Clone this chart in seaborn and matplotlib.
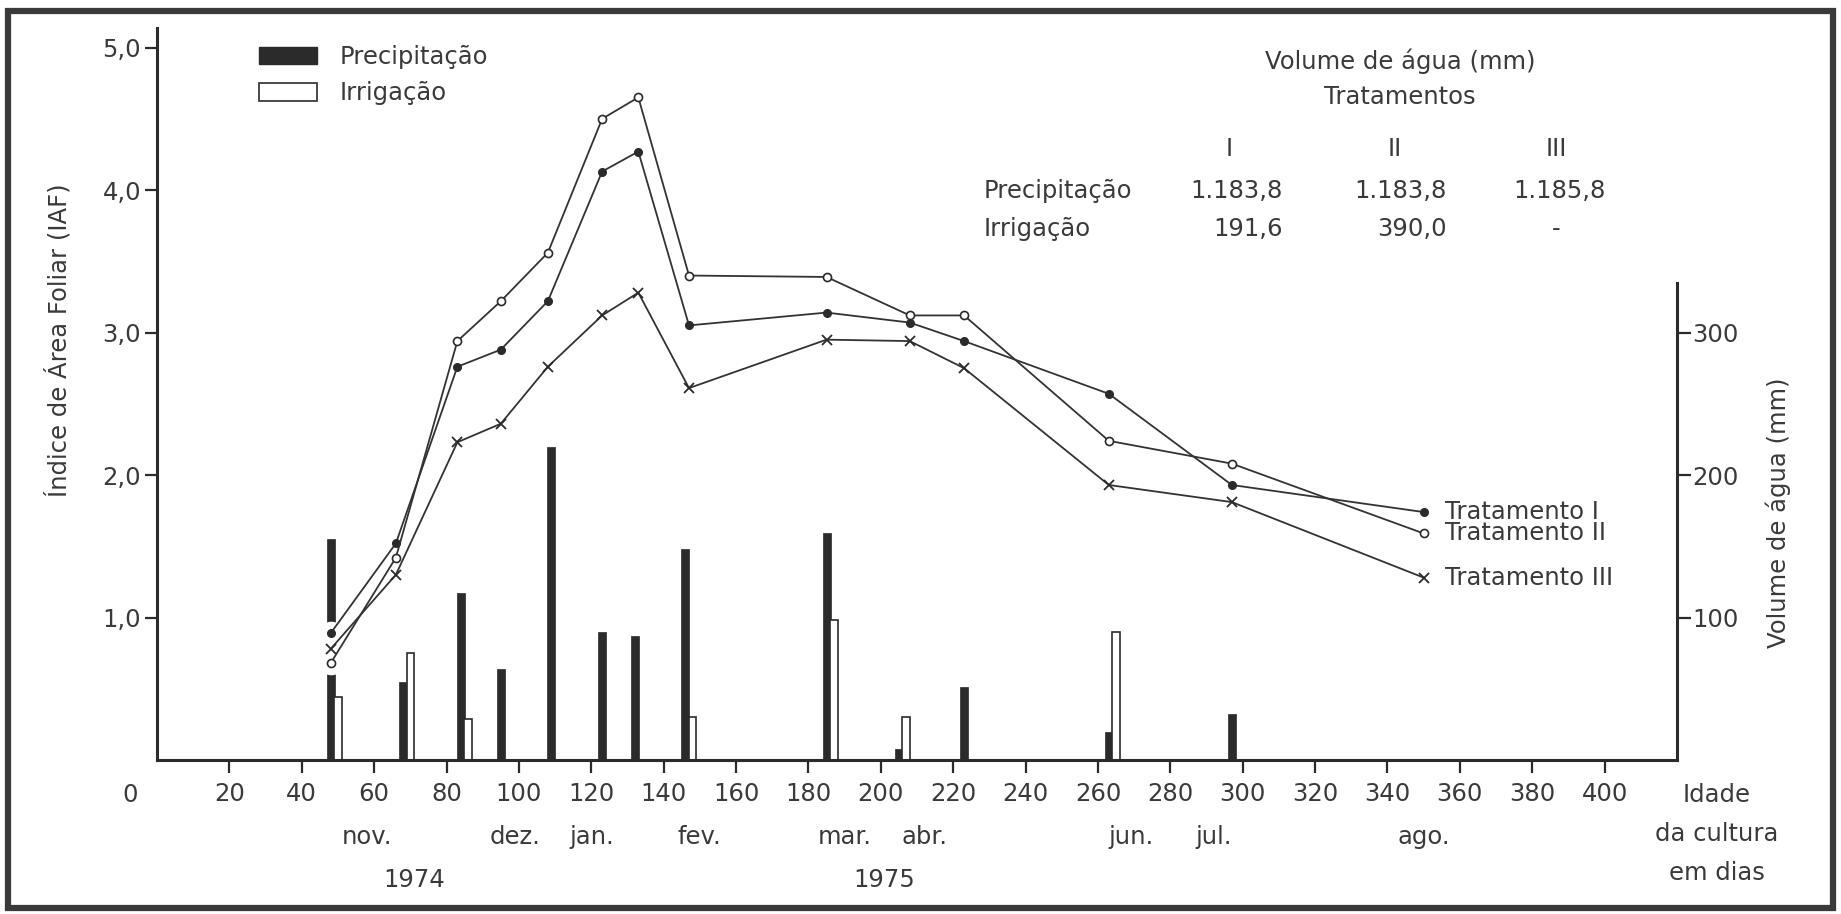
import matplotlib
matplotlib.use("Agg")
import matplotlib.pyplot as plt
import seaborn as sns
from matplotlib.patches import Patch, Rectangle

# ---------------- data ----------------
iaf_days = [48, 66, 83, 95, 108, 123, 133, 147, 185, 208, 223, 263, 297, 350]
iaf_trat_I = [0.89, 1.52, 2.76, 2.88, 3.22, 4.13, 4.27, 3.05, 3.14, 3.07, 2.94, 2.57, 1.93, 1.74]
iaf_trat_II = [0.68, 1.42, 2.94, 3.22, 3.56, 4.50, 4.65, 3.40, 3.39, 3.12, 3.12, 2.24, 2.08, 1.59]
iaf_trat_III = [0.78, 1.30, 2.23, 2.36, 2.76, 3.12, 3.28, 2.61, 2.95, 2.94, 2.75, 1.93, 1.81, 1.28]
trat_names = ["Tratamento I", "Tratamento II", "Tratamento III"]

precip_days = [48, 68, 84, 95, 109, 123, 132, 146, 185, 205, 223, 263, 297]
precip_mm = [155, 55, 117, 64, 220, 90, 87, 148, 159, 8, 51, 20, 32]
irrig_days = [50, 70, 86, 148, 187, 207, 265]
irrig_mm = [44, 75, 29, 30, 98, 30, 90]

x_ticks = list(range(20, 401, 20))
left_ticks = [1.0, 2.0, 3.0, 4.0, 5.0]
left_tick_labels = ["1,0", "2,0", "3,0", "4,0", "5,0"]
right_ticks = [100, 200, 300]

months = ["nov.", "dez.", "jan.", "fev.", "mar.", "abr.", "jun.", "jul.", "ago."]
month_days = [58, 99, 120, 150, 190, 212, 269, 292, 350]
years = ["1974", "1975"]
year_days = [71, 201]

table_cols = ["I", "II", "III"]
table_precip = ["1.183,8", "1.183,8", "1.185,8"]
table_irrig = ["191,6", "390,0", "-"]

# ---------------- style ----------------
sns.set_theme(style="ticks")
plt.rcParams["font.family"] = ["DejaVu Sans"]
FS = 17.5
TXT = "#3a3a3a"
DARK = "#2b2b2b"
LINE = "#333333"

W, H = 1841, 914
fig = plt.figure(figsize=(W / 100, H / 100), dpi=100, facecolor="white")
L, R, B, T = 157, 1677, 760, 27.6
ax = fig.add_axes([L / W, 1 - B / H, (R - L) / W, (B - T) / H])
ax2 = ax.twinx()
ax.set_zorder(ax2.get_zorder() + 1)
ax.patch.set_visible(False)

ax.set_xlim(0, 420)
ax.set_ylim(0, 5.14)
ax2.set_ylim(0, 514)

# bars (right axis, mm)
ax2.bar(precip_days, precip_mm, width=2.2, color=DARK, edgecolor=DARK, linewidth=0.5, zorder=2)
ax2.bar(irrig_days, irrig_mm, width=2.1, color="white", edgecolor=DARK, linewidth=1.2, zorder=2)

# white halos under markers
for vals in (iaf_trat_I, iaf_trat_II, iaf_trat_III):
    ax.plot(iaf_days, vals, ls="none", marker="o", markersize=16,
            markerfacecolor="white", markeredgecolor="white", zorder=2)

# lines
sns.lineplot(x=iaf_days, y=iaf_trat_I, ax=ax, color=LINE, linewidth=1.3, marker="o",
             markersize=5.5, markerfacecolor=DARK, markeredgecolor=DARK,
             markeredgewidth=1.0, zorder=4)
sns.lineplot(x=iaf_days, y=iaf_trat_II, ax=ax, color=LINE, linewidth=1.3, marker="o",
             markersize=5.8, markerfacecolor="white", markeredgecolor=DARK,
             markeredgewidth=1.2, zorder=4)
sns.lineplot(x=iaf_days, y=iaf_trat_III, ax=ax, color=LINE, linewidth=1.3, marker="x",
             markersize=7, markeredgecolor=DARK, markeredgewidth=1.3, zorder=4)

# treatment labels at line ends
for name, vals in zip(trat_names, (iaf_trat_I, iaf_trat_II, iaf_trat_III)):
    ax.text(iaf_days[-1] + 6, vals[-1], name, ha="left", va="center",
            fontsize=FS, color=TXT)

# spines
for s in ("top", "right"):
    ax.spines[s].set_visible(False)
for s in ("left", "bottom"):
    ax.spines[s].set_linewidth(2.2)
    ax.spines[s].set_color(DARK)
for s in ("top", "left", "bottom"):
    ax2.spines[s].set_visible(False)
ax2.spines["right"].set_linewidth(2.2)
ax2.spines["right"].set_color(DARK)
ax2.spines["right"].set_bounds(0, 335)

# ticks
ax.set_xticks(x_ticks)
ax.set_xticklabels([str(v) for v in x_ticks])
ax.tick_params(axis="x", bottom=True, direction="out", length=9, width=1.6, pad=7,
               labelsize=FS, color=DARK, labelcolor=TXT)
ax.set_yticks(left_ticks)
ax.set_yticklabels(left_tick_labels)
ax.tick_params(axis="y", left=True, right=False, direction="out", length=8.5, width=1.6,
               pad=3, labelsize=FS, color=DARK, labelcolor=TXT)
ax2.set_yticks(right_ticks)
ax2.set_yticklabels([str(v) for v in right_ticks])
ax2.tick_params(axis="y", right=True, left=False, direction="out", length=10, width=1.6,
                pad=1, labelsize=FS, color=DARK, labelcolor=TXT)
ax.set_xlabel("")
ax.set_ylabel("")
ax2.set_ylabel("")

# under-axis texts
xt = ax.get_xaxis_transform()
def yfrac(py):
    return (B - py) / (B - T)

ax.text(-7.5, yfrac(795), "0", transform=xt, ha="center", va="center", fontsize=FS, color=TXT)
for m, d in zip(months, month_days):
    ax.text(d, yfrac(837), m, transform=xt, ha="center", va="center", fontsize=FS, color=TXT)
for yname, d in zip(years, year_days):
    ax.text(d, yfrac(880), yname, transform=xt, ha="center", va="center", fontsize=FS, color=TXT)
for line, py in zip(["Idade", "da cultura", "em dias"], [795, 834, 873]):
    ax.text(431, yfrac(py), line, transform=xt, ha="center", va="center",
            fontsize=FS, color=TXT, clip_on=False)

# legend
ax.legend(handles=[Patch(facecolor=DARK, edgecolor=DARK),
                   Patch(facecolor="white", edgecolor=DARK, linewidth=1.2)],
          labels=["Precipitação", "Irrigação"], loc="upper left",
          bbox_to_anchor=((259 - L) / (R - L), yfrac(45)), frameon=False,
          borderaxespad=0, borderpad=0, handlelength=2.4, handleheight=0.75,
          handletextpad=0.9, labelspacing=0.5, fontsize=FS, labelcolor=TXT)

# figure texts (pixel positions)
def ftext(px, py, s, **kw):
    fig.text(px / W, 1 - py / H, s, fontsize=FS, color=TXT, **kw)

ftext(58, 340, "Índice de Área Foliar (IAF)", rotation=90, ha="center", va="center")
ftext(1778, 513, "Volume de água (mm)", rotation=90, ha="center", va="center")

ftext(1400, 61, "Volume de água (mm)", ha="center", va="center")
ftext(1400, 97, "Tratamentos", ha="center", va="center")
col_centers = [1229, 1395, 1556]
col_rights = [1283, 1447, 1606]
for c, cx in zip(table_cols, col_centers):
    ftext(cx, 149, c, ha="center", va="center")
ftext(984, 191, "Precipitação", ha="left", va="center")
ftext(984, 229, "Irrigação", ha="left", va="center")
for v, rx in zip(table_precip, col_rights):
    ftext(rx, 191, v, ha="right", va="center")
for v, rx, cx in zip(table_irrig, col_rights, col_centers):
    if v == "-":
        ftext(cx, 229, v, ha="center", va="center")
    else:
        ftext(rx, 229, v, ha="right", va="center")

# outer frame
fig.add_artist(Rectangle((8 / W, 6 / H), (1833 - 8) / W, (908 - 11) / H,
                         transform=fig.transFigure, fill=False, linewidth=4.5,
                         edgecolor="#3a3a3a"))

fig.savefig("out.png", dpi=100, facecolor="white")
